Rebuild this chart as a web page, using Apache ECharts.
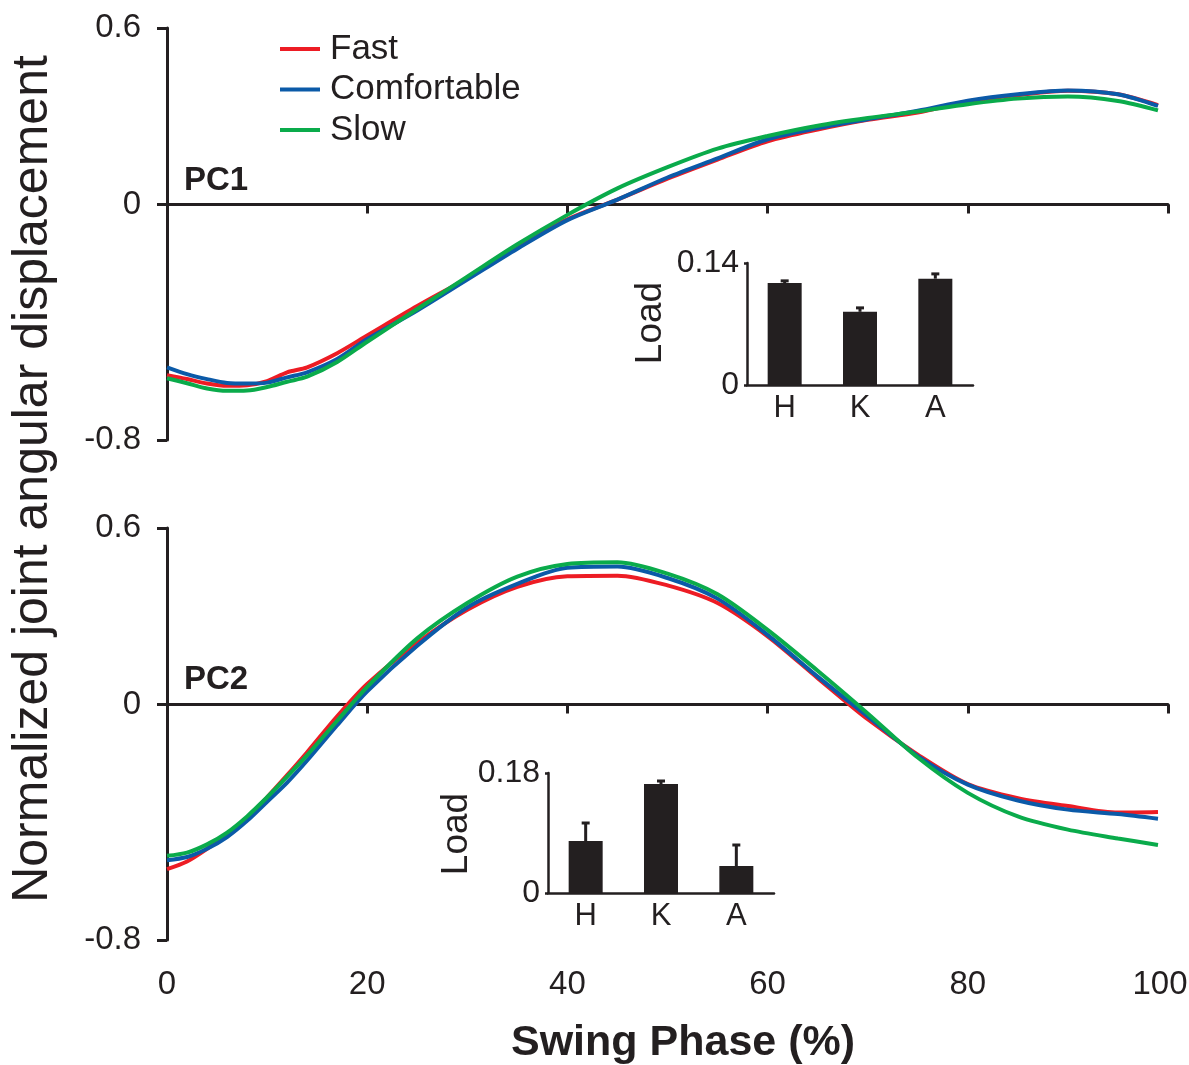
<!DOCTYPE html>
<html><head><meta charset="utf-8">
<script src="https://cdn.jsdelivr.net/npm/echarts@6/dist/echarts.min.js"></script>
<style>html,body{margin:0;padding:0;background:#fff}#c{width:1189px;height:1065px}</style>
</head><body><div id="c"></div>
<script>
// ---- data ----
const swingPhase = [0,2,4,6,8,10,12,14,17,20,25,30,35,40,45,50,55,60,65,70,75,80,85,90,95,99];
const pc1Fast = [-0.58,-0.593,-0.608,-0.616,-0.614,-0.60,-0.57,-0.553,-0.505,-0.445,-0.345,-0.25,-0.145,-0.05,0.017,0.088,0.153,0.215,0.255,0.288,0.313,0.35,0.372,0.387,0.375,0.338];
const pc1Comfortable = [-0.553,-0.576,-0.593,-0.606,-0.608,-0.605,-0.587,-0.57,-0.525,-0.457,-0.36,-0.255,-0.15,-0.053,0.017,0.092,0.157,0.222,0.26,0.29,0.319,0.353,0.375,0.388,0.375,0.335];
const pc1Slow = [-0.59,-0.607,-0.625,-0.633,-0.632,-0.62,-0.602,-0.585,-0.535,-0.466,-0.355,-0.245,-0.135,-0.035,0.055,0.127,0.19,0.233,0.268,0.294,0.316,0.341,0.36,0.367,0.352,0.32];
const pc2Fast = [-0.559,-0.533,-0.49,-0.44,-0.385,-0.315,-0.24,-0.162,-0.04,0.07,0.21,0.322,0.40,0.436,0.438,0.405,0.345,0.232,0.09,-0.05,-0.17,-0.27,-0.318,-0.345,-0.367,-0.365];
const pc2Comfortable = [-0.529,-0.518,-0.49,-0.45,-0.395,-0.33,-0.265,-0.19,-0.07,0.045,0.2,0.33,0.41,0.465,0.469,0.43,0.36,0.237,0.095,-0.04,-0.175,-0.272,-0.326,-0.357,-0.372,-0.388];
const pc2Slow = [-0.514,-0.503,-0.475,-0.435,-0.38,-0.315,-0.245,-0.172,-0.055,0.06,0.225,0.345,0.435,0.478,0.484,0.445,0.375,0.254,0.115,-0.03,-0.18,-0.3,-0.38,-0.425,-0.455,-0.477];
const seriesNames = ['Fast','Comfortable','Slow'];
const mainYTicks = [-0.8, 0, 0.6];
const jointLabels = ['H','K','A'];
const pc1Load = [0.117, 0.084, 0.122];
const pc1LoadErr = [0.0025, 0.0045, 0.0055];
const pc1LoadTicks = [0, 0.14];
const pc2Load = [0.078, 0.1635, 0.0405];
const pc2LoadErr = [0.027, 0.0045, 0.0315];
const pc2LoadTicks = [0, 0.18];

// ---- style ----
const ink = '#231f20';
const FONT = '"Liberation Sans", Arial, Helvetica, sans-serif';
const colors = ['#ed1c24', '#0b5aa8', '#0aab4b'];

const chart = echarts.init(document.getElementById('c'), null, {renderer: 'canvas'});

function lineSeries(name, arr, idx, color) {
  return {
    type: 'line', name: name, xAxisIndex: idx, yAxisIndex: idx,
    data: swingPhase.map((x, i) => [x, arr[i]]),
    showSymbol: false, symbol: 'none', smooth: 0.3,
    lineStyle: {width: 4, color: color}, itemStyle: {color: color},
    z: 3
  };
}
function mainY(gi) {
  return {
    gridIndex: gi, type: 'value', min: -0.8, max: 0.6,
    axisLine: {show: true, onZero: false, lineStyle: {color: ink, width: 3}},
    axisTick: {show: true, length: 10, customValues: mainYTicks, lineStyle: {color: ink, width: 3}},
    axisLabel: {customValues: mainYTicks, margin: 26, fontSize: 33, color: ink, fontFamily: FONT},
    splitLine: {show: false}
  };
}
function mainX(gi) {
  return {
    gridIndex: gi, type: 'value', min: 0, max: 100, interval: 20,
    axisLine: {onZero: true, lineStyle: {color: ink, width: 3}},
    axisTick: {show: true, length: 9, lineStyle: {color: ink, width: 3}},
    axisLabel: {show: false}, splitLine: {show: false}
  };
}
function insetX(gi) {
  return {
    gridIndex: gi, type: 'category', data: jointLabels,
    axisLine: {lineStyle: {color: ink, width: 2.5}},
    axisTick: {show: false},
    axisLabel: {margin: 8, fontSize: 31, color: ink, fontFamily: FONT},
    splitLine: {show: false}
  };
}
function insetY(gi, maxV, ticks) {
  return {
    gridIndex: gi, type: 'value', min: 0, max: maxV,
    axisLine: {show: true, lineStyle: {color: ink, width: 2.5}},
    axisTick: {show: true, length: 3, customValues: ticks, lineStyle: {color: ink, width: 2.5}},
    axisLabel: {customValues: ticks, margin: 8, fontSize: 32, color: ink, fontFamily: FONT, padding: [0, 0, 13, 0]},
    splitLine: {show: false}
  };
}
function errSeries(idx, vals, errs) {
  return {
    type: 'custom', xAxisIndex: idx, yAxisIndex: idx, z: 4,
    data: vals.map((v, i) => [i, v, v + errs[i]]),
    renderItem: function (params, api) {
      const b = api.coord([api.value(0), api.value(1)]);
      const t = api.coord([api.value(0), api.value(2)]);
      return {type: 'group', children: [
        {type: 'line', shape: {x1: b[0], y1: b[1], x2: t[0], y2: t[1]}, style: {stroke: ink, lineWidth: 3}},
        {type: 'line', shape: {x1: t[0] - 4, y1: t[1], x2: t[0] + 4, y2: t[1]}, style: {stroke: ink, lineWidth: 3}}
      ]};
    }
  };
}

const option = {
  backgroundColor: '#fff',
  animation: false,
  textStyle: {fontFamily: FONT},
  grid: [
    {left: 167, top: 28, width: 1001, height: 412, outerBoundsMode: 'none'},
    {left: 167, top: 528, width: 1001, height: 412, outerBoundsMode: 'none'},
    {left: 747, top: 263, width: 226, height: 122, outerBoundsMode: 'none'},
    {left: 548, top: 773, width: 226, height: 120, outerBoundsMode: 'none'}
  ],
  xAxis: [
    mainX(0), mainX(1),
    insetX(2), insetX(3),
    {gridIndex: 1, type: 'value', min: 0, max: 100, interval: 20, position: 'bottom',
     axisLine: {show: false, onZero: false}, axisTick: {show: false},
     axisLabel: {margin: 28, fontSize: 33, color: ink, fontFamily: FONT,
       formatter: v => (v === 100 ? '{r|100}' : String(v)),
       rich: {r: {fontSize: 33, color: ink, fontFamily: FONT, padding: [0, 16, 0, 0]}}},
     splitLine: {show: false}}
  ],
  yAxis: [
    mainY(0), mainY(1),
    insetY(2, 0.14, pc1LoadTicks), insetY(3, 0.18, pc2LoadTicks)
  ],
  legend: {
    data: seriesNames.map(n => ({name: n, icon: 'rect'})),
    orient: 'vertical', left: 275, top: 26,
    itemWidth: 40, itemHeight: 4, itemGap: 4.5, selectedMode: false,
    textStyle: {fontSize: 35, color: ink, lineHeight: 36, fontFamily: FONT, padding: [0, 0, 0, 5]}
  },
  series: [
    lineSeries(seriesNames[0], pc1Fast, 0, colors[0]),
    lineSeries(seriesNames[1], pc1Comfortable, 0, colors[1]),
    lineSeries(seriesNames[2], pc1Slow, 0, colors[2]),
    lineSeries(seriesNames[0], pc2Fast, 1, colors[0]),
    lineSeries(seriesNames[1], pc2Comfortable, 1, colors[1]),
    lineSeries(seriesNames[2], pc2Slow, 1, colors[2]),
    {type: 'bar', xAxisIndex: 2, yAxisIndex: 2, data: pc1Load, barWidth: 34, itemStyle: {color: ink}, z: 3},
    {type: 'bar', xAxisIndex: 3, yAxisIndex: 3, data: pc2Load, barWidth: 34, itemStyle: {color: ink}, z: 3},
    errSeries(2, pc1Load, pc1LoadErr),
    errSeries(3, pc2Load, pc2LoadErr)
  ],
  graphic: [
    {type: 'text', x: 184, y: 181, style: {text: 'PC1', font: 'bold 33px ' + FONT, fill: ink, align: 'left', verticalAlign: 'middle'}},
    {type: 'text', x: 184, y: 680, style: {text: 'PC2', font: 'bold 33px ' + FONT, fill: ink, align: 'left', verticalAlign: 'middle'}},
    {type: 'text', x: 33, y: 479, rotation: Math.PI / 2, style: {text: 'Normalized joint angular displacement', font: '50px ' + FONT, fill: ink, align: 'center', verticalAlign: 'middle'}},
    {type: 'text', x: 651, y: 323, rotation: Math.PI / 2, style: {text: 'Load', font: '37px ' + FONT, fill: ink, align: 'center', verticalAlign: 'middle'}},
    {type: 'text', x: 457, y: 834, rotation: Math.PI / 2, style: {text: 'Load', font: '37px ' + FONT, fill: ink, align: 'center', verticalAlign: 'middle'}},
    {type: 'text', x: 683, y: 1043, style: {text: 'Swing Phase (%)', font: 'bold 43px ' + FONT, fill: ink, align: 'center', verticalAlign: 'middle'}}
  ]
};
chart.setOption(option);
</script>
</body></html>
